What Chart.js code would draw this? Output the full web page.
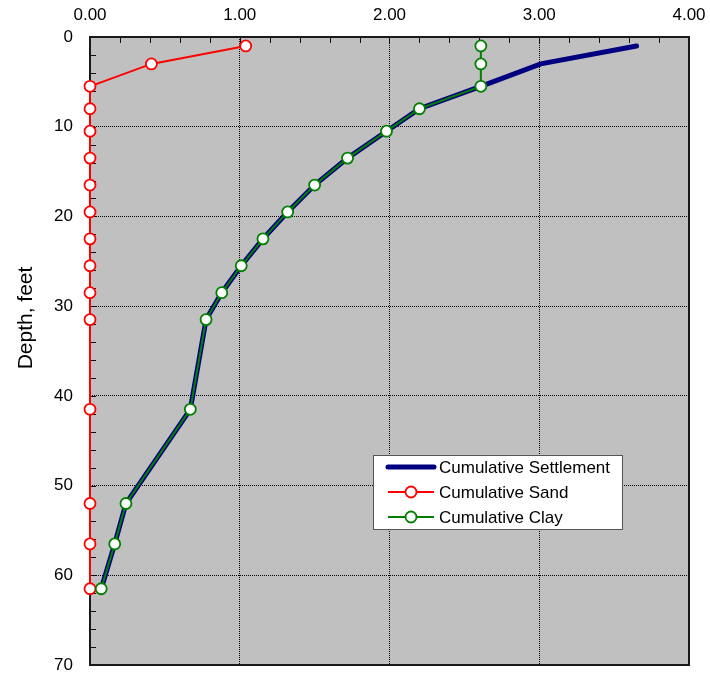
<!DOCTYPE html>
<html>
<head>
<meta charset="utf-8">
<script src="https://cdn.jsdelivr.net/npm/chart.js@4.4.1/dist/chart.umd.min.js"></script>
<style>
  body { margin: 0; background: #fff; }
  canvas { display: block; }
</style>
</head>
<body>
<canvas id="settle" width="710" height="677"></canvas>
<script>
// layer mid-depths (feet) and cumulative settlement (inches) at each
const depths = [1, 3, 5.5, 8, 10.5, 13.5, 16.5, 19.5, 22.5, 25.5, 28.5, 31.5, 41.5, 52, 56.5, 61.5];
const settlement = [3.65, 3.01, 2.61, 2.20, 1.98, 1.72, 1.50, 1.32, 1.155, 1.01, 0.88, 0.775, 0.67, 0.24, 0.165, 0.075];
const sand = [1.04, 0.41, 0, 0, 0, 0, 0, 0, 0, 0, 0, 0, 0, 0, 0, 0];
const clay = [2.61, 2.61, 2.61, 2.20, 1.98, 1.72, 1.50, 1.32, 1.155, 1.01, 0.88, 0.775, 0.67, 0.24, 0.165, 0.075];

const FONT = '"Liberation Sans", Arial, sans-serif';

function pts(xs) {
  return xs.map((x, i) => ({ x: x, y: depths[i] }));
}

// let edge tick labels hang outside without shrinking the plot
function noOverhang(s) {
  s.paddingLeft = 0;
  s.paddingRight = 0;
  s.paddingTop = 0;
  s.paddingBottom = 0;
}

const plotFrame = {
  id: 'plotFrame',
  beforeDraw(chart) {
    const { ctx, chartArea: a } = chart;
    ctx.save();
    ctx.fillStyle = '#c0c0c0';
    ctx.fillRect(a.left, a.top, a.width, a.height);
    ctx.restore();
  },
  beforeDatasetsDraw(chart) {
    const { ctx, chartArea: a, scales } = chart;
    ctx.save();
    ctx.strokeStyle = '#111';
    ctx.lineWidth = 1;
    // minor ticks pointing inward on top and left edges
    ctx.beginPath();
    for (let v = 0.2; v < 4; v += 0.2) {
      const px = Math.round(scales.x.getPixelForValue(v)) + 0.5;
      ctx.moveTo(px, a.top);
      ctx.lineTo(px, a.top + 6);
    }
    for (let v = 2; v < 70; v += 2) {
      const py = Math.round(scales.y.getPixelForValue(v)) + 0.5;
      ctx.moveTo(a.left, py);
      ctx.lineTo(a.left + 6, py);
    }
    ctx.stroke();
    // frame
    ctx.strokeStyle = '#1a1a1a';
    ctx.lineWidth = 2;
    ctx.strokeRect(a.left, a.top, a.width, a.height);
    ctx.restore();
  },
  afterDraw(chart) {
    const { ctx, chartArea: a } = chart;
    ctx.save();
    // y axis title
    ctx.translate(26, 318);
    ctx.rotate(-Math.PI / 2);
    ctx.font = '21px ' + FONT;
    ctx.fillStyle = '#000';
    ctx.textAlign = 'center';
    ctx.textBaseline = 'middle';
    ctx.fillText('Depth, feet', 0, 0);
    ctx.restore();

    // legend box inside the plot
    const bx = a.left + 283, by = a.top + 418, bw = 249, bh = 74;
    ctx.save();
    ctx.fillStyle = '#fff';
    ctx.fillRect(bx, by, bw, bh);
    ctx.strokeStyle = '#555';
    ctx.lineWidth = 1;
    ctx.strokeRect(bx + 0.5, by + 0.5, bw, bh);
    ctx.font = '17px ' + FONT;
    ctx.textBaseline = 'middle';
    chart.data.datasets.forEach((ds, i) => {
      const ry = by + 12 + i * 25;
      ctx.strokeStyle = ds.borderColor;
      ctx.lineWidth = ds.borderWidth;
      ctx.lineCap = ds.pointRadius ? 'butt' : 'round';
      ctx.beginPath();
      ctx.moveTo(bx + 15, ry);
      ctx.lineTo(bx + 61, ry);
      ctx.stroke();
      if (ds.pointRadius) {
        ctx.fillStyle = '#fff';
        ctx.lineWidth = ds.pointBorderWidth;
        ctx.beginPath();
        ctx.arc(bx + 38, ry, ds.pointRadius, 0, Math.PI * 2);
        ctx.fill();
        ctx.stroke();
      }
      ctx.fillStyle = '#000';
      ctx.fillText(ds.label, bx + 66, ry + 1);
    });
    ctx.restore();
  }
};

new Chart(document.getElementById('settle').getContext('2d'), {
  type: 'scatter',
  data: {
    datasets: [
      {
        label: 'Cumulative Settlement',
        data: pts(settlement),
        showLine: true,
        borderColor: '#000080',
        borderWidth: 5,
        pointRadius: 0,
        borderCapStyle: 'round',
        clip: false,
        order: 3
      },
      {
        label: 'Cumulative Sand',
        data: pts(sand),
        showLine: true,
        borderColor: '#ff0000',
        borderWidth: 2,
        pointRadius: 5.5,
        pointBorderWidth: 1.8,
        pointBorderColor: '#ff0000',
        pointBackgroundColor: '#ffffff',
        clip: false,
        order: 2
      },
      {
        label: 'Cumulative Clay',
        data: pts(clay),
        showLine: true,
        borderColor: '#008000',
        borderWidth: 2,
        pointRadius: 5.5,
        pointBorderWidth: 1.8,
        pointBorderColor: '#008000',
        pointBackgroundColor: '#ffffff',
        clip: false,
        order: 1
      }
    ]
  },
  options: {
    responsive: false,
    animation: false,
    layout: { padding: { left: 0, right: 21, top: 0, bottom: 12 } },
    plugins: {
      legend: { display: false },
      tooltip: { enabled: false }
    },
    scales: {
      x: {
        type: 'linear',
        position: 'top',
        min: 0,
        max: 4,
        afterFit: s => { s.height = 37; noOverhang(s); },
        grid: { color: '#000', lineWidth: 1, drawTicks: false },
        border: { display: false, dash: [1, 1] },
        ticks: {
          stepSize: 1,
          padding: 11,
          color: '#000',
          font: { family: FONT, size: 17 },
          callback: v => v.toFixed(2)
        }
      },
      y: {
        type: 'linear',
        reverse: true,
        min: 0,
        max: 70,
        afterFit: s => { s.width = 90; noOverhang(s); },
        grid: { color: '#000', lineWidth: 1, drawTicks: false },
        border: { display: false, dash: [1, 1] },
        ticks: {
          stepSize: 10,
          padding: 17,
          color: '#000',
          font: { family: FONT, size: 17 }
        }
      }
    }
  },
  plugins: [plotFrame]
});
</script>
</body>
</html>
